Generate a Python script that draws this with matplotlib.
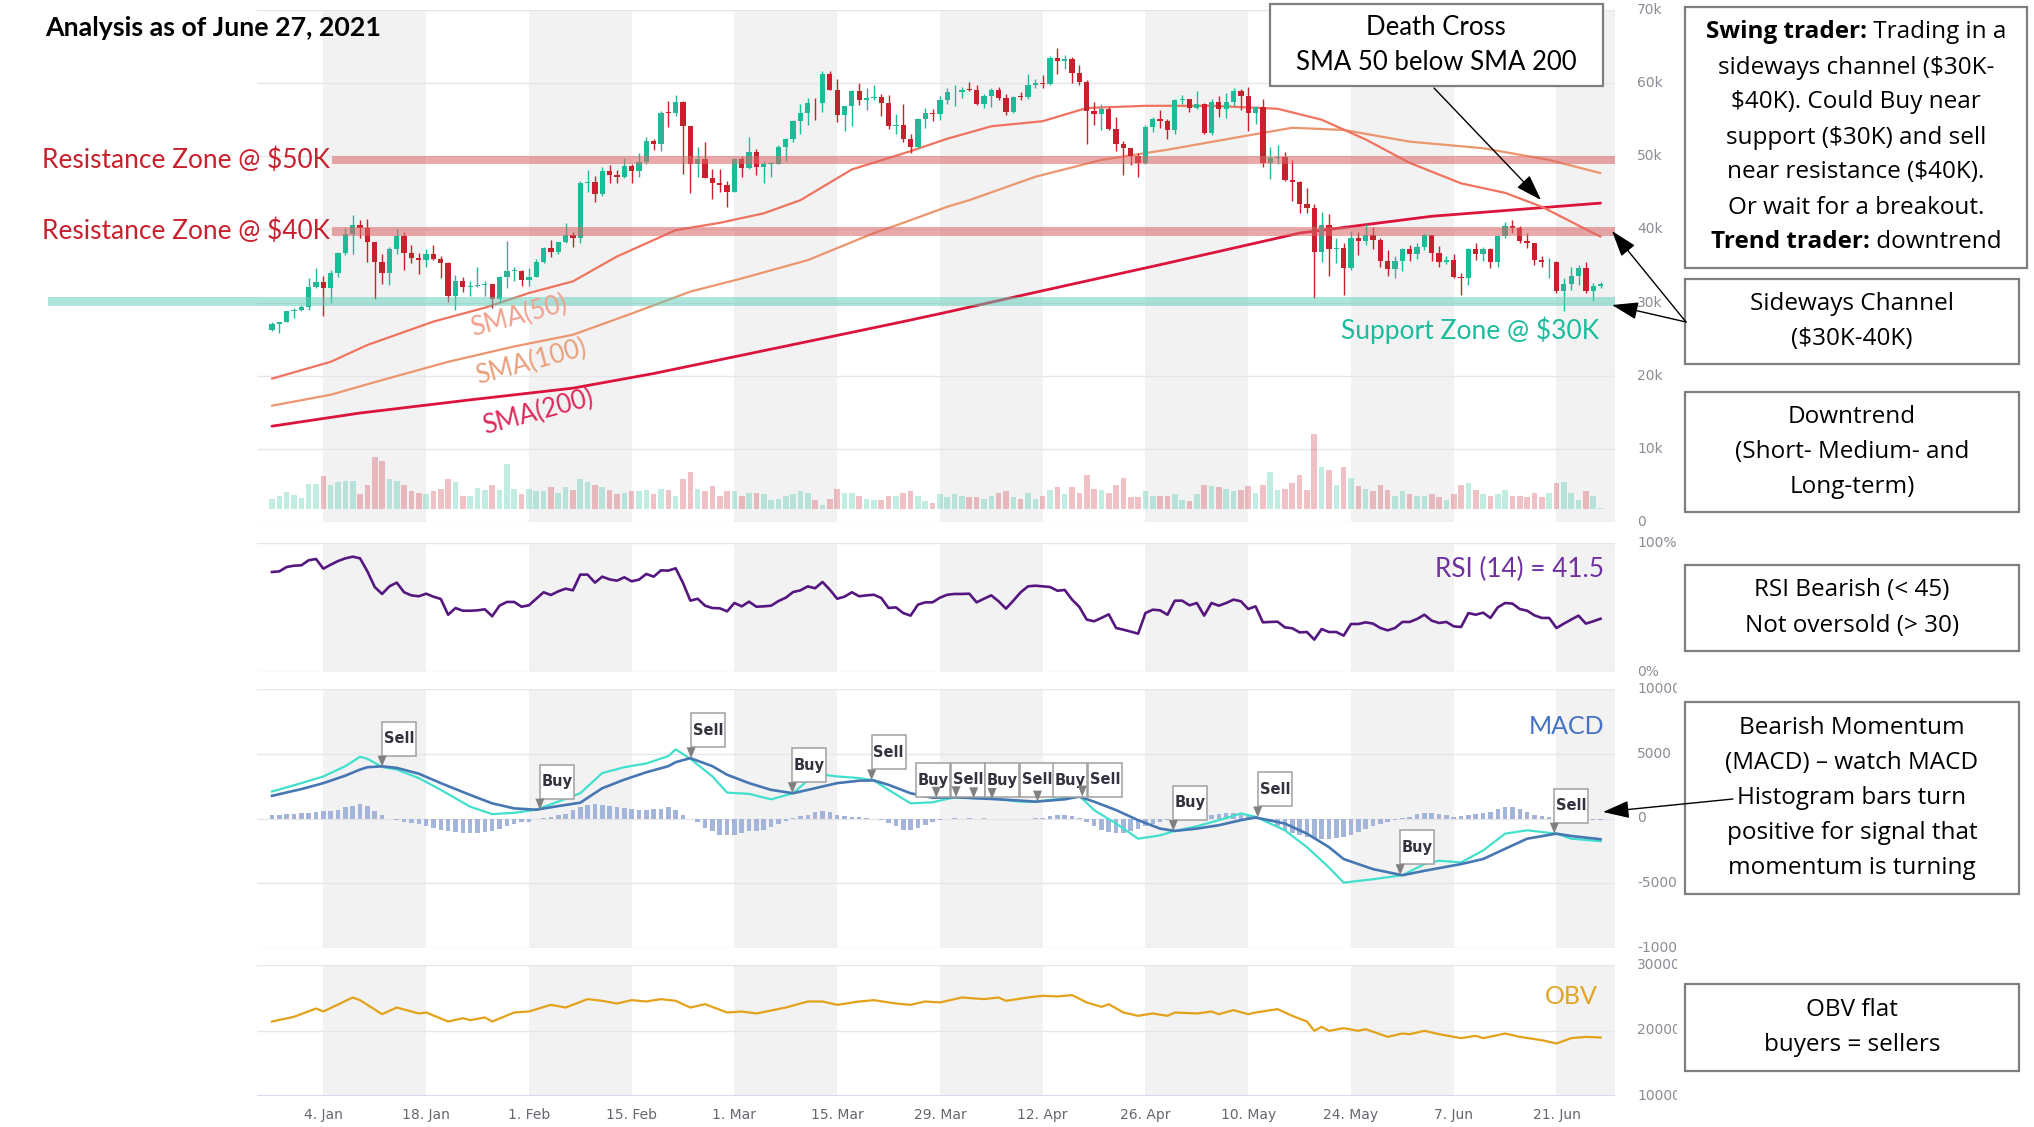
import numpy as np
import matplotlib
matplotlib.use("Agg")
import matplotlib.pyplot as plt
from matplotlib.patches import Rectangle, Polygon
from matplotlib.transforms import Bbox, TransformedBbox, blended_transform_factory

# ------------------------------------------------------------------ data
# day index 0 = 28 Dec 2020 ... 181 = 27 Jun 2021
x_tick_days = [7, 21, 35, 49, 63, 77, 91, 105, 119, 133, 147, 161, 175]
x_tick_labels = ["4. Jan", "18. Jan", "1. Feb", "15. Feb", "1. Mar", "15. Mar", "29. Mar",
                 "12. Apr", "26. Apr", "10. May", "24. May", "7. Jun", "21. Jun"]
shaded_fortnights = [7, 35, 63, 91, 119, 147, 175]

open_k = [26.28, 27.04, 27.36, 28.84, 29.00, 29.37, 32.13, 32.78, 31.97, 33.99,
          36.82, 39.37, 40.67, 40.25, 38.24, 35.54, 34.01, 37.39, 39.16, 36.83,
          36.07, 35.83, 36.63, 35.89, 35.47, 30.85, 32.99, 32.10, 32.26, 32.37,
          32.57, 30.43, 33.47, 34.32, 34.35, 33.11, 33.54, 35.51, 37.47, 36.93,
          38.29, 39.27, 38.83, 46.37, 46.42, 44.85, 48.01, 47.50, 47.10, 48.72,
          47.94, 49.20, 52.15, 51.68, 55.89, 55.88, 57.41, 54.09, 48.89, 49.68,
          47.06, 46.28, 46.13, 45.14, 49.63, 48.38, 50.54, 48.56, 48.93, 48.95,
          51.21, 52.38, 54.89, 55.89, 57.33, 57.22, 61.19, 59.00, 55.66, 56.90,
          58.91, 57.65, 58.03, 58.10, 57.35, 54.09, 54.34, 52.30, 51.30, 55.14,
          55.97, 55.78, 57.63, 58.73, 58.82, 59.11, 59.02, 57.09, 58.21, 59.12,
          58.02, 56.04, 58.16, 58.10, 59.77, 59.99, 59.84, 63.50, 62.97, 63.28,
          61.40, 60.20, 56.25, 55.72, 56.50, 53.79, 51.70, 51.14, 50.10, 49.03,
          54.02, 55.03, 54.84, 53.55, 57.75, 57.83, 56.63, 57.21, 53.24, 57.47,
          56.43, 57.38, 58.89, 58.28, 55.86, 56.75, 49.15, 49.72, 49.88, 46.76,
          46.43, 43.54, 42.91, 36.96, 40.55, 37.30, 37.45, 34.66, 38.80, 38.40,
          39.29, 38.56, 35.66, 34.61, 35.68, 37.33, 36.70, 37.57, 39.19, 36.83,
          35.52, 35.80, 33.55, 33.40, 37.30, 36.70, 37.34, 35.55, 39.10, 40.52,
          40.14, 38.35, 38.09, 35.82, 35.48, 35.60, 31.60, 32.51, 33.68, 34.66,
          31.59, 32.24]
high_k = [27.39, 27.40, 28.90, 29.30, 29.60, 33.30, 34.78, 33.60, 34.44, 36.88,
          40.18, 41.95, 41.35, 41.40, 38.30, 36.60, 37.60, 40.00, 39.70, 37.90,
          36.80, 37.30, 37.85, 36.40, 35.55, 33.80, 33.50, 32.90, 34.80, 32.90,
          32.60, 33.70, 38.40, 34.90, 34.40, 34.70, 35.90, 37.65, 38.60, 38.30,
          40.85, 39.65, 46.60, 48.10, 47.30, 48.50, 48.80, 48.10, 49.70, 49.00,
          50.50, 52.60, 52.40, 56.20, 57.50, 58.35, 57.55, 54.10, 51.30, 52.00,
          48.20, 48.30, 46.60, 49.80, 50.10, 52.60, 51.00, 49.40, 49.20, 51.50,
          52.50, 54.90, 57.20, 58.00, 58.00, 61.70, 61.60, 60.50, 56.90, 59.00,
          60.00, 59.30, 59.80, 58.50, 58.40, 55.80, 57.10, 53.10, 55.20, 56.60,
          56.50, 58.30, 59.30, 59.80, 59.50, 60.20, 59.80, 58.50, 59.40, 59.50,
          58.50, 58.30, 58.80, 61.20, 60.60, 61.10, 63.70, 64.85, 63.80, 63.60,
          62.50, 60.40, 57.40, 57.10, 56.70, 55.40, 52.10, 51.20, 50.50, 54.30,
          55.40, 56.30, 55.10, 57.90, 58.40, 57.90, 58.90, 57.25, 57.90, 58.30,
          58.60, 59.40, 59.20, 59.50, 56.90, 57.80, 51.30, 51.50, 50.60, 49.50,
          46.60, 45.70, 43.50, 42.40, 42.10, 38.80, 38.10, 39.80, 39.70, 40.80,
          40.30, 38.80, 37.20, 36.40, 37.50, 37.90, 38.20, 39.40, 39.20, 37.80,
          36.40, 36.70, 34.00, 37.50, 38.20, 37.60, 37.40, 39.30, 41.00, 41.30,
          40.50, 39.50, 38.20, 36.40, 36.10, 35.70, 33.30, 34.80, 35.20, 35.50,
          32.70, 32.80]
low_k = [26.05, 25.90, 27.32, 27.85, 28.80, 29.00, 32.00, 28.13, 30.00, 33.50,
         36.50, 36.60, 38.80, 35.50, 30.55, 32.50, 32.40, 36.70, 34.40, 35.40,
         33.90, 34.90, 35.80, 33.40, 30.10, 28.95, 31.40, 30.90, 32.10, 30.85,
         29.30, 29.90, 31.95, 32.90, 32.30, 32.30, 33.45, 35.40, 36.20, 36.70,
         38.15, 37.55, 38.10, 45.10, 43.80, 44.60, 46.30, 46.40, 47.00, 46.30,
         47.10, 48.90, 50.90, 50.70, 54.00, 55.50, 47.60, 45.00, 47.10, 47.00,
         44.20, 45.10, 43.00, 45.10, 47.10, 48.20, 47.50, 46.40, 47.10, 48.90,
         49.40, 51.90, 53.10, 54.30, 55.00, 56.10, 59.00, 54.70, 53.50, 54.20,
         57.00, 56.30, 57.70, 55.50, 53.70, 53.00, 51.90, 50.40, 51.20, 53.90,
         54.80, 55.00, 57.10, 56.90, 58.00, 58.90, 57.00, 56.60, 56.80, 57.70,
         55.60, 55.90, 57.70, 57.90, 59.30, 59.40, 59.80, 61.30, 62.00, 60.00,
         59.70, 51.70, 54.30, 53.60, 53.60, 50.70, 47.50, 48.80, 47.10, 48.90,
         53.30, 53.90, 52.40, 53.10, 57.10, 56.10, 56.50, 53.10, 52.90, 55.40,
         55.30, 56.90, 56.30, 53.50, 54.40, 48.60, 46.90, 48.90, 46.60, 43.90,
         42.20, 42.30, 30.60, 35.50, 33.60, 35.40, 31.10, 34.50, 36.50, 37.90,
         37.30, 34.80, 33.60, 33.40, 34.30, 35.70, 35.90, 37.20, 35.70, 34.90,
         35.30, 33.40, 31.00, 32.40, 35.80, 35.70, 34.70, 34.80, 38.80, 39.50,
         38.10, 37.40, 35.20, 34.80, 33.40, 31.30, 28.90, 31.70, 32.40, 31.30,
         30.20, 32.00]
close_k = [27.04, 27.36, 28.84, 29.00, 29.37, 32.13, 32.78, 31.97, 33.99, 36.82,
           39.37, 40.67, 40.25, 38.24, 35.54, 34.01, 37.39, 39.16, 36.83, 36.07,
           35.83, 36.63, 35.89, 35.47, 30.85, 32.99, 32.10, 32.26, 32.37, 32.57,
           30.43, 33.47, 34.32, 34.35, 33.11, 33.54, 35.51, 37.47, 36.93, 38.29,
           39.27, 38.83, 46.37, 46.42, 44.85, 48.01, 47.50, 47.10, 48.72, 47.94,
           49.20, 52.15, 51.68, 55.89, 55.88, 57.41, 54.09, 48.89, 49.68, 47.06,
           46.28, 46.13, 45.14, 49.63, 48.38, 50.54, 48.56, 48.93, 48.95, 51.21,
           52.38, 54.89, 55.89, 57.33, 57.22, 61.19, 59.00, 55.66, 56.90, 58.91,
           57.65, 58.03, 58.10, 57.35, 54.09, 54.34, 52.30, 51.30, 55.14, 55.97,
           55.78, 57.63, 58.73, 58.82, 59.11, 59.02, 57.09, 58.21, 59.12, 58.02,
           56.04, 58.16, 58.10, 59.77, 59.99, 59.84, 63.50, 62.97, 63.28, 61.40,
           60.20, 56.25, 55.72, 56.50, 53.79, 51.70, 51.14, 50.10, 49.03, 54.02,
           55.03, 54.84, 53.55, 57.75, 57.83, 56.63, 57.21, 53.24, 57.47, 56.43,
           57.38, 58.89, 58.28, 55.86, 56.75, 49.15, 49.72, 49.88, 46.76, 46.43,
           43.54, 42.91, 36.96, 40.55, 37.30, 37.45, 34.66, 38.80, 38.40, 39.29,
           38.56, 35.66, 34.61, 35.68, 37.33, 36.70, 37.57, 39.19, 36.83, 35.52,
           35.80, 33.55, 33.40, 37.30, 36.70, 37.34, 35.55, 39.10, 40.52, 40.14,
           38.35, 38.09, 35.82, 35.48, 35.60, 31.60, 32.51, 33.68, 34.66, 31.59,
           32.24, 32.60]
volume = [31, 39, 52, 43, 34, 76, 76, 98, 72, 80, 85, 85, 44, 72, 155, 143, 90, 85, 73, 54,
          49, 44, 53, 61, 89, 81, 39, 39, 62, 58, 73, 58, 135, 61, 44, 61, 53, 53, 65, 49,
          65, 58, 89, 81, 73, 65, 58, 44, 49, 53, 53, 56, 44, 61, 57, 39, 89, 111, 61, 53,
          69, 39, 53, 53, 39, 49, 49, 44, 27, 31, 39, 44, 53, 49, 27, 11, 31, 61, 49, 49,
          39, 31, 27, 27, 39, 39, 49, 53, 39, 23, 19, 44, 35, 44, 39, 35, 35, 31, 39, 49,
          53, 35, 31, 49, 31, 39, 57, 65, 44, 65, 49, 103, 61, 57, 49, 73, 94, 35, 35, 53,
          39, 39, 39, 44, 27, 23, 44, 73, 69, 65, 61, 53, 57, 69, 48, 73, 111, 57, 61, 77,
          103, 57, 226, 126, 118, 73, 126, 94, 69, 61, 53, 73, 57, 39, 53, 44, 39, 39, 44, 35,
          27, 44, 73, 77, 57, 44, 39, 44, 57, 39, 39, 35, 48, 35, 49, 77, 81, 49, 27, 53,
          39, 2]
rsi = [77.5, 78, 81.4, 82.4, 82.7, 86.6, 87.6, 80.1, 83.2, 86,
       88.1, 89.4, 88.1, 78, 65.9, 60.5, 66.4, 69.3, 61.8, 59.4,
       58.7, 60.7, 58.4, 56.6, 44.4, 49.6, 47.5, 47.5, 47.8, 48.6,
       43.2, 51.4, 54.3, 54.3, 50.6, 51.7, 56.8, 61.8, 59.7, 62.5,
       64.6, 63.3, 75.5, 75.5, 69.3, 73.9, 71.8, 70.8, 73.4, 70.3,
       71.6, 76, 73.9, 78.8, 78.6, 80.4, 69, 55.3, 56.8, 51.4,
       49.6, 49.4, 47, 53.5, 50.9, 54.5, 50.6, 50.9, 51.4, 55, 57.6,
       62, 63.3, 66.4, 64.9, 69.8, 63.8, 56.8, 58.4, 61.8, 58.7,
       59.4, 59.9, 57.4, 49.6, 50.1, 45.7, 43.7, 52.2, 54, 54,
       57.6, 59.9, 60.5, 60.5, 60.7, 54, 56.8, 59.4, 54.8, 49.1,
       55.3, 61.8, 66.4, 66.9, 66.4, 65.9, 63, 63.6, 56.1, 50.4,
       40.6, 39.3, 41.9, 44.7, 34.1, 32.8, 31.3, 29.7, 45.7, 48.3,
       47.8, 44.4,
       55.3, 55.3, 51.7, 53.5, 43.7, 53.5, 51.4, 53.5, 56.1, 54.8,
       48.8, 50.9, 38.5, 38.8, 39, 34.6, 33.9, 30.7, 31, 25.1,
       33.3, 31, 31, 28.2, 37.2, 37.2, 38.5, 37.5, 34.1, 32.3,
       34.1, 38.8, 38.8, 41.1, 44.4, 39.8, 38, 38.8, 35.4, 34.9,
       45.7, 44.4, 46, 41.9, 50.1, 53.5, 53, 48.8, 47.5, 43.9,
       41.9, 41.9, 34.1, 37.5, 40.6, 43.7, 37.5, 39.3, 41.3]
macd_days = [0, 4, 7, 10, 12, 13, 15, 17, 20, 23, 27, 30, 33, 36, 39, 42, 45, 48, 51, 54,
             55, 57, 60, 62, 65, 68, 71, 74, 77, 80, 82, 84, 87, 90, 93, 96, 98, 102, 104, 108,
             110, 112, 115, 118, 121, 123, 126, 129, 132, 134, 138, 141, 144, 146, 150, 154,
             157, 159, 162, 165, 168, 171, 175, 177, 181]
macd_line = [2080, 2730, 3250, 4040, 4770, 4610, 3980, 3780, 3120, 2210, 910, 340, 440, 680,
             1300, 1950, 3510, 3960, 4250, 4820, 5340, 4610, 3250, 2000, 1900, 1480, 1950, 3460,
             3250, 3120, 2940, 2210, 1170, 1250, 1640, 1560, 1560, 1300, 1300, 1560, 1750, 650,
             -390, -1560, -1300, -960, -600, -130, 390, 130, -910, -2210, -3780, -4950, -4690,
             -4380, -3520, -3260, -3390, -2470, -1170, -910, -1170, -1560, -1750]
signal_line = [1750, 2270, 2730, 3310, 3780, 3960, 4030, 3910, 3460, 2730, 1820, 1170, 780,
               680, 960, 1220, 2340, 3000, 3570, 4040, 4350, 4660, 4040, 3380, 2730, 2210,
               1950, 2340, 2730, 2920, 2940, 2600, 1950, 1600, 1640, 1560, 1510, 1380, 1300,
               1480, 1690, 1300, 650, -130, -780, -960, -780, -520, -130, 80, -390, -1170,
               -2210, -3130, -3910, -4380, -4040, -3830, -3520, -3130, -2340, -1560, -1170,
               -1350, -1600]
macd_hist = [300, 300, 350, 350, 400, 450, 500, 550, 550, 650,
             850, 1000, 1100, 1000, 550, 250, -50, -150, -250, -350,
             -450, -550, -700, -900, -1000, -1050, -1100, -1100, -1100, -1050,
             -950, -800, -600, -450, -300, -250, -50, 50, 150, 250,
             350, 650, 900, 1050, 1100, 1050, 950, 900, 800, 700,
             650, 650, 700, 750, 850, 650, 250, -50, -300, -700,
             -1000, -1250, -1300, -1250, -1100, -1000, -950, -900, -650, -400,
             -200, 50, 200, 300, 500, 600, 500, 300, 200, 150,
             100, 50, -50, -150, -350, -600, -850, -850, -700, -500,
             -250, -150, -50, 20, -20, 20, -20, 20, -20, -50,
             -50, -50, -50, -20, 20, 50, 200, 300, 300, 200,
             50, -300, -600, -900, -1050, -1100, -1100, -1000, -800, -600,
             -450, -300, -150, 50, 100, 150, 200, 200, 250, 350,
             450, 400, 300, 200, 50, -100, -300, -600, -900, -1100,
             -1250, -1400, -1500, -1550, -1550, -1500, -1400, -1250, -1050, -800,
             -550, -400, -250, -100, 50, 150, 350, 450, 400, 350,
             250, 150, 200, 300, 350, 400, 500, 700, 850, 900,
             700, 500, 300, 200, 100, -50, -100, -150, -100, -100,
             -100, -100]
flag_labels = ["Sell", "Buy", "Sell", "Buy", "Sell", "Buy", "Sell", "Buy", "Sell", "Buy",
               "Sell", "Buy", "Sell", "Buy", "Sell"]
flag_days = [15, 36.5, 57.1, 70.9, 81.7, 90.5, 93.2, 95.6, 98.1, 104.3, 110.4,
             122.8, 134.3, 153.7, 174.7]
flag_vals = [4000, 680, 4650, 1950, 2940, 1600, 1640, 1560, 1510, 1300, 1690,
             -960, 80, -4380, -1170]
obv_days = [0, 3, 6, 7, 11, 12, 15, 17, 20, 21, 24, 26, 27, 29, 30, 33, 35, 38, 40, 43,
            45, 47, 49, 51, 53, 55, 57, 59, 62, 64, 66, 70, 73, 75, 77, 80, 82, 85, 87, 89,
            91, 93, 94, 97, 99, 100, 103, 105, 107, 109, 111, 113, 114, 116, 118, 120, 122,
            123, 126, 128, 129, 131, 133, 134, 137, 139, 141, 142, 143, 144, 146, 148, 149,
            152, 154, 155, 157, 159, 162, 164, 165, 168, 170, 173, 175, 177, 179, 181]
obv = [21370, 22090, 23360, 22900, 25040, 24630, 22490, 23510, 22600, 22750, 21370, 21880,
       21580, 21990, 21370, 22750, 22900, 23920, 23510, 24790, 24530, 24120, 24630, 24430,
       24790, 24530, 23510, 24020, 22750, 22900, 22600, 23510, 24430, 24430, 23920, 24430,
       24630, 24120, 23920, 24430, 24280, 24790, 25040, 24790, 25040, 24530, 25040, 25300,
       25200, 25400, 24280, 23610, 24020, 22750, 22240, 22600, 22240, 22750, 22600, 22900,
       22490, 23110, 22490, 22750, 23260, 22240, 21370, 19950, 20560, 19950, 20360, 19950,
       20200, 19030, 19540, 19440, 19950, 19440, 18830, 19190, 18830, 19540, 19030, 18520,
       18020, 18830, 19030, 18930]
sma50_days = [0, 8, 13, 22, 29, 35, 41, 47, 55, 61, 67, 72, 79, 87, 92, 98, 105, 111, 119,
              128, 137, 143, 149, 155, 162, 168, 173, 181]
sma50_k = [19.6, 21.9, 24.2, 27.4, 29.3, 31.3, 32.9, 36.3, 39.9, 40.9, 42.2, 44.0, 48.2, 50.7,
           52.4, 54.1, 54.8, 56.6, 56.9, 56.9, 56.5, 55.0, 52.3, 49.1, 46.3, 45.0, 43.1, 39.0]
sma100_days = [0, 8, 15, 24, 33, 41, 49, 57, 64, 73, 82, 86, 92, 95, 104, 113, 122, 131, 139,
               146, 155, 165, 174, 181]
sma100_k = [15.9, 17.4, 19.4, 21.9, 24.0, 25.6, 28.5, 31.5, 33.3, 35.8, 39.5, 40.9, 43.1, 44.0,
            47.2, 49.5, 50.9, 52.5, 53.9, 53.6, 52.0, 51.1, 49.5, 47.7]
sma200_days = [0, 12, 27, 41, 52, 64, 76, 86, 92, 104, 122, 140, 158, 181]
sma200_k = [13.1, 14.9, 16.7, 18.3, 20.3, 22.8, 25.3, 27.4, 28.7, 31.4, 35.4, 39.5, 41.8, 43.6]
resistance_k = [49.5, 39.7]
support_k = 30.1
zone_half_k = 0.6
price_ticks = [0, 10, 20, 30, 40, 50, 60, 70]
price_tick_labels = ["0", "10k", "20k", "30k", "40k", "50k", "60k", "70k"]
macd_ticks = [10000, 5000, 0, -5000, -10000]
obv_ticks = [30000, 20000, 10000]

# ------------------------------------------------------------------ layout
W, H = 2034, 1127
fig = plt.figure(figsize=(W / 100, H / 100), dpi=100)
fig.patch.set_facecolor("white")

CAL = ["Lato", "DejaVu Sans"]
SEG = ["Open Sans", "DejaVu Sans"]
TICKF = ["DejaVu Sans"]
NARROW = ["Liberation Sans Narrow", "DejaVu Sans"]

X0, X1 = 257, 1615
XMIN, XMAX = -2.04, 182.97


def add_ax(top, bottom, z=1):
    return fig.add_axes([X0 / W, 1 - bottom / H, (X1 - X0) / W, (bottom - top) / H], zorder=z)


ax_p = add_ax(10, 522)
ax_v = add_ax(10, 522, z=2)
ax_r = add_ax(543, 672)
ax_m = add_ax(689, 948)
ax_o = add_ax(965, 1096)

GRID = "#e6e6ea"
BAND = "#f2f2f2"
for ax in (ax_p, ax_v, ax_r, ax_m, ax_o):
    ax.set_xlim(XMIN, XMAX)
    for s in ax.spines.values():
        s.set_visible(False)
    ax.set_xticks([])
    ax.set_yticks([])
    ax.patch.set_alpha(0)
for ax in (ax_p, ax_r, ax_m, ax_o):
    for b in shaded_fortnights:
        ax.axvspan(b, b + 14, color=BAND, lw=0, zorder=0)

ax_p.set_ylim(0, 70)
ax_v.set_ylim(-39, 1497)
ax_r.set_ylim(0, 100)
ax_m.set_ylim(-10000, 10000)
ax_o.set_ylim(10000, 30000)

for v in price_ticks:
    ax_p.axhline(v, color=GRID, lw=1, zorder=1)
for v in (0, 100):
    ax_r.axhline(v, color=GRID, lw=1, zorder=1)
for v in macd_ticks:
    ax_m.axhline(v, color=GRID, lw=1, zorder=1)
for v in obv_ticks[:-1]:
    ax_o.axhline(v, color=GRID, lw=1, zorder=1)
ax_o.axhline(obv_ticks[-1], color="#ccd6eb", lw=1.2, zorder=1)

# ------------------------------------------------------------------ price
UP, DOWN = "#1fbb99", "#c8202d"
days = np.arange(len(close_k))
o = np.array(open_k); c = np.array(close_k); hi = np.array(high_k); lo = np.array(low_k)
cols = np.where(c >= o, UP, DOWN)
ax_p.vlines(days, lo, hi, colors=cols, lw=1.0, zorder=4)
ax_p.bar(days, np.maximum(np.abs(c - o), 0.12), bottom=np.minimum(o, c), width=0.72,
         color=cols, lw=0, zorder=4)

ax_p.plot(sma200_days, sma200_k, color="#dc143c", lw=2.0, zorder=3, solid_capstyle="round",
          solid_joinstyle="round")
ax_p.plot(sma100_days, sma100_k, color="#eb966e", lw=1.6, zorder=3, solid_capstyle="round",
          solid_joinstyle="round")
ax_p.plot(sma50_days, sma50_k, color="#f0735f", lw=1.6, zorder=3, solid_capstyle="round",
          solid_joinstyle="round")

bt = blended_transform_factory(fig.transFigure, ax_p.transData)
for lvl in resistance_k:
    ax_p.add_patch(Rectangle((332 / W, lvl - zone_half_k), (X1 - 332) / W, 2 * zone_half_k,
                             transform=bt, facecolor="#db6464", alpha=0.55, lw=0,
                             zorder=6, clip_on=False))
ax_p.add_patch(Rectangle((48 / W, support_k - zone_half_k), (X1 - 48) / W, 2 * zone_half_k,
                         transform=bt, facecolor="#5fcdb9", alpha=0.5, lw=0,
                         zorder=6, clip_on=False))

vcol = np.where(c >= o, UP, DOWN)
ax_v.bar(days, volume, width=0.76, color=vcol, alpha=0.28, lw=0, zorder=2)

# ------------------------------------------------------------------ RSI / MACD / OBV
ax_r.plot(days, rsi, color="#55177f", lw=1.9, zorder=3)

ax_m.bar(days, macd_hist, width=0.62, color="#a3b6da", lw=0, zorder=2)
ax_m.plot(macd_days, macd_line, color="#40e0cc", lw=1.6, zorder=3)
ax_m.plot(macd_days, signal_line, color="#4677b3", lw=1.9, zorder=4)

ax_o.plot(obv_days, obv, color="#e3a21a", lw=1.6, zorder=3)

# ------------------------------------------------------------------ axis labels
clip = TransformedBbox(Bbox.from_extents(0, 0, 1677 / W, 1), fig.transFigure)


def right_labels(ax, vals, labels):
    tr = blended_transform_factory(fig.transFigure, ax.transData)
    for v, s in zip(vals, labels):
        t = fig.text(1637 / W, v, s, transform=tr, ha="left", va="center", fontsize=10,
                     color="#8c8c96", family=TICKF)
        t.set_clip_on(True)
        t.set_clip_box(clip)


right_labels(ax_p, price_ticks, price_tick_labels)
right_labels(ax_r, [100, 0], ["100%", "0%"])
right_labels(ax_m, macd_ticks, [str(v) for v in macd_ticks])
right_labels(ax_o, obv_ticks, [str(v) for v in obv_ticks])

xtr = blended_transform_factory(ax_o.transData, ax_o.transAxes)
for d, s in zip(x_tick_days, x_tick_labels):
    ax_o.text(d, -0.145, s, transform=xtr, ha="center", va="center", fontsize=10,
              color="#666670", family=TICKF)

# ------------------------------------------------------------------ overlay annotations
ov = fig.add_axes([0, 0, 1, 1], zorder=20)
ov.set_xlim(0, W)
ov.set_ylim(H, 0)
ov.axis("off")
ov.patch.set_alpha(0)
renderer = fig.canvas.get_renderer()


def to_ov(ax, x, y):
    X, Y = ax.transData.transform((x, y))
    return X, H - Y


# flags
cluster_box_left = {5: 87.7, 6: 92.5, 7: 97.1, 8: 101.9, 9: 106.4, 10: 111.2}
for i, (lab, d, v) in enumerate(zip(flag_labels, flag_days, flag_vals)):
    px, py = to_ov(ax_m, d, v)
    if i in cluster_box_left:
        bx, _ = to_ov(ax_m, cluster_box_left[i], 0)
        btop = 763
    else:
        bx = px
        btop = py - 11 - 34
    ov.add_patch(Rectangle((bx, btop), 34, 34, facecolor="white", edgecolor="#a0a0a0",
                           lw=1.1, zorder=5))
    ov.text(bx + 17, btop + 17, lab, ha="center", va="center", fontsize=10.5,
            fontweight="bold", color="#333340", family=NARROW, zorder=6)
    ov.add_patch(Polygon([(px - 4.5, py - 11), (px + 4.5, py - 11), (px, py)],
                         closed=True, facecolor="#808080", edgecolor="none", zorder=6))

# panel titles
ov.text(1604, 569, "RSI (14) = 41.5", ha="right", va="center", fontsize=18.8,
        color="#7030a0", family=CAL)
ov.text(1604, 727, "MACD", ha="right", va="center", fontsize=18, color="#4472c4", family=CAL)
ov.text(1598, 997, "OBV", ha="right", va="center", fontsize=18, color="#e0a526", family=CAL)

# title and zone labels
ov.text(45, 28, "Analysis as of June 27, 2021", ha="left", va="center", fontsize=19.3,
        fontweight="bold", color="black", family=CAL)
for lvl, s in zip(resistance_k, ["Resistance Zone @ $50K", "Resistance Zone @ $40K"]):
    _, yy = to_ov(ax_p, 0, lvl)
    ov.text(42, yy, s, ha="left", va="center", fontsize=18.9, color="#c8202d", family=CAL)
_, ys = to_ov(ax_p, 0, support_k)
ov.text(1599, ys + 28, "Support Zone @ $30K", ha="right", va="center", fontsize=19,
        color="#1abc9c", family=CAL)

ov.text(519, 316, "SMA(50)", ha="center", va="center", rotation=15, fontsize=18.5,
        color="#f2a08e", family=CAL)
ov.text(531, 362, "SMA(100)", ha="center", va="center", rotation=15, fontsize=18.5,
        color="#e9a07c", family=CAL)
ov.text(538, 412, "SMA(200)", ha="center", va="center", rotation=15, fontsize=18.5,
        color="#de2a5c", family=CAL)


def box(x0, y0, x1, y1):
    ov.add_patch(Rectangle((x0, y0), x1 - x0, y1 - y0, facecolor="white",
                           edgecolor="#7f7f7f", lw=1.6, zorder=3))


def centered_lines(xc, yc, lines, size, family, spacing=35):
    n = len(lines)
    for k, parts in enumerate(lines):
        y = yc + (k - (n - 1) / 2) * spacing
        objs = [ov.text(0, y, s, fontsize=size, fontweight=wt, family=family, color="black",
                        ha="left", va="center", zorder=4) for s, wt in parts]
        widths = [t.get_window_extent(renderer).width for t in objs]
        x = xc - sum(widths) / 2
        for t, wd in zip(objs, widths):
            t.set_x(x)
            x += wd


# death cross box
box(1270, 4, 1603, 86)
centered_lines(1436, 45, [[("Death Cross", "normal")], [("SMA 50 below SMA 200", "normal")]],
               18.5, CAL)

N = "normal"; B = "bold"
right_boxes = [
    ((1685, 7, 2027, 268), [[("Swing trader:", B), (" Trading in a", N)],
                             [("sideways channel ($30K-", N)],
                             [("$40K). Could Buy near", N)],
                             [("support ($30K) and sell", N)],
                             [("near resistance ($40K).", N)],
                             [("Or wait for a breakout.", N)],
                             [("Trend trader:", B), (" downtrend", N)]]),
    ((1685, 279, 2019, 364), [[("Sideways Channel", N)], [("($30K-40K)", N)]]),
    ((1685, 392, 2019, 512), [[("Downtrend", N)], [("(Short- Medium- and", N)],
                               [("Long-term)", N)]]),
    ((1685, 565, 2019, 651), [[("RSI Bearish (< 45)", N)], [("Not oversold (> 30)", N)]]),
    ((1685, 702, 2019, 894), [[("Bearish Momentum", N)], [("(MACD) \u2013 watch MACD", N)],
                               [("Histogram bars turn", N)], [("positive for signal that", N)],
                               [("momentum is turning", N)]]),
    ((1685, 984, 2019, 1071), [[("OBV flat", N)], [("buyers = sellers", N)]]),
]
for (x0, y0, x1, y1), lines in right_boxes:
    box(x0, y0, x1, y1)
    centered_lines((x0 + x1) / 2, (y0 + y1) / 2, lines, 17.5, SEG)

AP = dict(arrowstyle="-|>,head_length=0.9,head_width=0.3", color="black", lw=1.0,
          shrinkA=0, shrinkB=0, mutation_scale=18)
ov.annotate("", xy=(1541, 200), xytext=(1434, 88), arrowprops=AP, zorder=7)
ov.annotate("", xy=(1612, 231), xytext=(1686, 322), arrowprops=AP, zorder=7)
ov.annotate("", xy=(1612, 305), xytext=(1686, 322), arrowprops=AP, zorder=7)
ov.annotate("", xy=(1603, 812), xytext=(1733, 799), arrowprops=AP, zorder=7)

fig.savefig("out.png", dpi=100)
